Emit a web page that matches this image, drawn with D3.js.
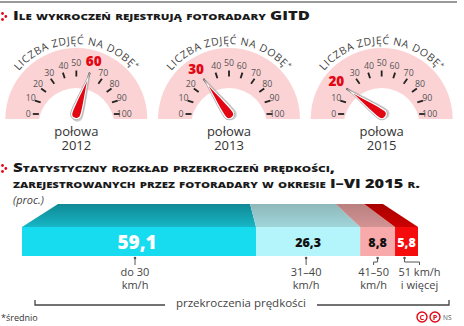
<!DOCTYPE html>
<html><head><meta charset="utf-8">
<script src="https://cdn.jsdelivr.net/npm/d3@7"></script>
<style>
html,body{margin:0;padding:0;background:#fff;}
svg{display:block;}
text{font-family:"Open Sans","Noto Sans",sans-serif;}
</style></head>
<body>
<script>
// ---- data ----
const years = ["2012", "2013", "2015"];
const photosPerDay = [60, 30, 20];
const dialTicks = [0, 10, 20, 30, 40, 50, 60, 70, 80, 90, 100];
const speedCats = [["do 30", "km/h"], ["31–40", "km/h"], ["41–50", "km/h"], ["51 km/h", "i więcej"]];
const shares = [59.1, 26.3, 8.8, 5.8];
const title1 = "Ile wykroczeń rejestrują fotoradary GITD";
const title2 = ["Statystyczny rozkład przekroczeń prędkości,", "zarejestrowanych przez fotoradary w okresie I–VI 2015 r."];

// ---- layout / style ----
const W = 464, H = 326;
const frontCol = ["#17dcef", "#b3f5fa", "#f8a9aa", "#f50d0d"];
const topBack = ["#118995", "#8fb7ba", "#b98080", "#a80000"];
const topFront = ["#17b6c6", "#9fd6da", "#d29393", "#cc0000"];
const valCol = ["#fff", "#111", "#111", "#fff"];
const dotShift = [-4, -2, 0, -2];
const labShift = [-4, -2, -4, 13];

const svg = d3.select("body").append("svg").attr("width", W).attr("height", H);
const defs = svg.append("defs");

// top rule
svg.append("line").attr("x1", 0).attr("x2", 457).attr("y1", 2).attr("y2", 2)
  .attr("stroke", "#9a9a9a").attr("stroke-width", 2);

function icon(y) {
  [[2.5, -6.5], [5.8, -3.5], [2.5, -0.5]].forEach(p =>
    svg.append("circle").attr("cx", p[0]).attr("cy", y + p[1]).attr("r", 1.4).attr("fill", "#e30613"));
}
function titleText(x, y, s, len) {
  svg.append("text").attr("x", x).attr("y", y).text(s)
    .attr("font-family", "Lato, 'Open Sans', sans-serif")
    .attr("font-weight", 900).attr("font-size", 11.5)
    .attr("textLength", len).attr("lengthAdjust", "spacingAndGlyphs")
    .style("font-variant", "small-caps").attr("fill", "#1a1a1a");
}
icon(20);
titleText(13, 20, title1, 297);

// ---- gauges ----
const centersX = d3.scaleBand().domain(years).range([0, 458]);
const ang = d3.scaleLinear().domain([0, 100]).range([-Math.PI / 2, Math.PI / 2]);
const pinkR = 71, dialY = 114, baseY = 119;

years.forEach((yr, i) => {
  const cx = centersX(yr) + centersX.bandwidth() / 2;
  const g = svg.append("g");
  // pink half disc
  g.append("path")
    .attr("d", d3.arc()({innerRadius: 0, outerRadius: pinkR, startAngle: -Math.PI / 2, endAngle: Math.PI / 2}))
    .attr("transform", `translate(${cx},${baseY})`).attr("fill", "#fcd3d5");
  // inner white
  g.append("circle").attr("cx", cx).attr("cy", 126).attr("r", 38).attr("fill", "#fff");
  g.append("rect").attr("x", cx - pinkR - 2).attr("y", baseY).attr("width", 2 * pinkR + 4).attr("height", 12).attr("fill", "#fff");

  // curved label
  const pid = "arc" + i;
  const rr = 75;
  defs.append("path").attr("id", pid)
    .attr("d", `M${cx - rr},${baseY} A${rr},${rr} 0 0 1 ${cx + rr},${baseY}`);
  const t = g.append("text").attr("font-size", 10.5).attr("fill", "#444").attr("letter-spacing", 0.6)
    .attr("font-family", "'Open Sans', sans-serif");
  const tp = t.append("textPath").attr("href", "#" + pid).attr("startOffset", "50%").attr("text-anchor", "middle");
  tp.append("tspan").text("LICZBA ZDJĘĆ NA DOBĘ");
  tp.append("tspan").text("*").attr("font-size", 7).attr("dy", -3);

  // ticks
  dialTicks.forEach(v => {
    const a = ang(v), s = Math.sin(a), c = Math.cos(a);
    g.append("line")
      .attr("x1", cx + 37.5 * s).attr("y1", dialY - 37.5 * c)
      .attr("x2", cx + 43.5 * s).attr("y2", dialY - 43.5 * c)
      .attr("stroke", "#222").attr("stroke-width", 1.8);
    if (v === photosPerDay[i]) return;
    const lr = 51;
    const anchor = s < -0.3 ? "end" : (s > 0.3 ? "start" : "middle");
    const lx = cx + lr * s + (anchor === "end" ? 3 : anchor === "start" ? -3 : 0);
    g.append("text").attr("x", lx).attr("y", dialY - lr * c + 3.2)
      .attr("text-anchor", "middle").attr("font-size", 8.8).attr("fill", "#555")
      .attr("font-family", "'Open Sans', sans-serif")
      .text(v);
  });
  // highlighted value
  const av = ang(photosPerDay[i]);
  g.append("text").attr("x", cx + 56 * Math.sin(av)).attr("y", dialY - 56 * Math.cos(av) + 5)
    .attr("text-anchor", "middle").attr("font-size", 13.5).attr("font-weight", 800)
    .attr("fill", "#e30613").text(photosPerDay[i]);

  // needle
  const deg = av * 180 / Math.PI;
  const ng = g.append("g").attr("transform", `translate(${cx},${dialY}) rotate(${deg})`);
  const outer = "M0,-43 C1.6,-30 5.8,-8 5.8,0 A5.8,5.8 0 0 1 -5.8,0 C-5.8,-8 -1.6,-30 0,-43 Z";
  const inner = "M0,-35 C1,-25 4,-8 4,0 A4,4 0 0 1 -4,0 C-4,-8 -1,-25 0,-35 Z";
  ng.append("path").attr("d", outer).attr("fill", "#999").attr("opacity", 0.45).attr("transform", "translate(1.5,1.5)");
  ng.append("path").attr("d", outer).attr("fill", "#fff").attr("stroke", "#aaa").attr("stroke-width", 0.8);
  ng.append("path").attr("d", inner).attr("fill", "#e30613");

  // year labels
  g.append("text").attr("x", cx).attr("y", 136).attr("text-anchor", "middle")
    .attr("font-size", 13).attr("fill", "#333").text("połowa");
  g.append("text").attr("x", cx).attr("y", 150).attr("text-anchor", "middle")
    .attr("font-size", 13).attr("fill", "#333").text(yr);
});

// ---- second section ----
icon(172);
titleText(13, 172, title2[0], 322);
titleText(13, 188, title2[1], 407);
svg.append("text").attr("x", 13).attr("y", 204).text("(proc.)")
  .attr("font-family", "'Liberation Serif', serif").attr("font-style", "italic")
  .attr("font-size", 11).attr("fill", "#444");

const cum = d3.cumsum(shares);
const total = cum[cum.length - 1];
const xF = d3.scaleLinear().domain([0, total]).range([22, 418]);
const xB = d3.scaleLinear().domain([0, total]).range([58, 383]);
const yTop = 204, yMid = 227, yBot = 256;

shares.forEach((v, i) => {
  const a = i === 0 ? 0 : cum[i - 1], b = cum[i];
  const gid = "tg" + i;
  const lg = defs.append("linearGradient").attr("id", gid).attr("x1", 0).attr("x2", 0).attr("y1", 0).attr("y2", 1);
  lg.append("stop").attr("offset", 0).attr("stop-color", topBack[i]);
  lg.append("stop").attr("offset", 1).attr("stop-color", topFront[i]);
  svg.append("path")
    .attr("d", `M${xB(a)},${yTop} L${xB(b)},${yTop} L${xF(b)},${yMid} L${xF(a)},${yMid} Z`)
    .attr("fill", `url(#${gid})`);
  svg.append("rect").attr("x", xF(a)).attr("y", yMid).attr("width", xF(b) - xF(a)).attr("height", yBot - yMid)
    .attr("fill", frontCol[i]);
  const mx = (xF(a) + xF(b)) / 2;
  const big = i === 0;
  svg.append("text").attr("x", mx + (big ? -2 : 0)).attr("y", 242 + (big ? 6.5 : 4.5))
    .attr("text-anchor", "middle").attr("font-weight", 800)
    .attr("font-size", big ? 19 : 12.5).attr("fill", valCol[i])
    .attr("font-family", "'Open Sans', sans-serif")
    .text(d3.format(".1f")(v).replace(".", ","));
  // pointer
  const sx = mx + dotShift[i], lx = mx + labShift[i];
  svg.append("path").attr("d", `M${sx},257.5 V262 H${lx} V265`)
    .attr("fill", "none").attr("stroke", "#555").attr("stroke-width", 1);
  svg.append("circle").attr("cx", sx).attr("cy", 258).attr("r", 1.3).attr("fill", "#555");
  speedCats[i].forEach((s, k) => {
    svg.append("text").attr("x", lx).attr("y", 276 + k * 13).attr("text-anchor", "middle")
      .attr("font-size", 11).attr("fill", "#444").text(s);
  });
});

// bracket
svg.append("path").attr("d", "M35,300 V305 H165").attr("fill", "none").attr("stroke", "#444").attr("stroke-width", 1.3);
svg.append("path").attr("d", "M317,305 H449 V300").attr("fill", "none").attr("stroke", "#444").attr("stroke-width", 1.3);
svg.append("text").attr("x", 241).attr("y", 307).attr("text-anchor", "middle")
  .attr("font-size", 11.5).attr("fill", "#444").text("przekroczenia prędkości");

// footer
svg.append("text").attr("x", 1).attr("y", 321).attr("font-size", 9).attr("fill", "#333").text("*średnio");
[["©", 422], ["℗", 435]].forEach(d => {
  svg.append("circle").attr("cx", d[1]).attr("cy", 317).attr("r", 5).attr("fill", "none").attr("stroke", "#e30613").attr("stroke-width", 1.4);
  svg.append("text").attr("x", d[1]).attr("y", 320).attr("text-anchor", "middle").attr("font-size", 7.5)
    .attr("font-weight", 700).attr("fill", "#e30613").text(d[0] === "©" ? "C" : "P");
});
svg.append("text").attr("x", 443).attr("y", 320).attr("font-size", 6.5).attr("fill", "#555").text("NS");
</script>
</body></html>
